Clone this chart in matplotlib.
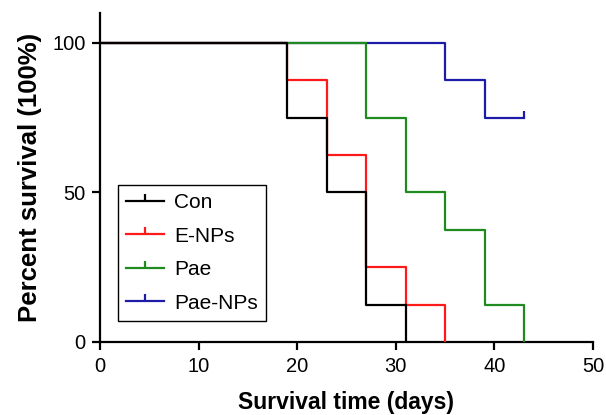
import matplotlib
matplotlib.use("Agg")
import matplotlib.pyplot as plt
from matplotlib.lines import Line2D

plt.rcParams["font.family"] = ["Liberation Sans", "DejaVu Sans"]

# survival curves (days, percent survival)
con_t = [0, 19, 23, 27, 31]
con_s = [100, 75, 50, 12.5, 0]

enps_t = [0, 19, 23, 27, 31, 35]
enps_s = [100, 87.5, 62.5, 25, 12.5, 0]

pae_t = [0, 27, 31, 35, 39, 43]
pae_s = [100, 75, 50, 37.5, 12.5, 0]

paenps_t = [0, 35, 39, 43]
paenps_s = [100, 87.5, 75, 75]
paenps_censor_t = [43]
paenps_censor_s = [75]

labels = ["Con", "E-NPs", "Pae", "Pae-NPs"]
colors = ["#000000", "#ff1a1a", "#1f8a1f", "#1c1ca8"]

fig = plt.figure(figsize=(6.06, 4.15), dpi=100)
ax = fig.add_axes([0.165, 0.176, 0.8135, 0.793])

lw = 1.6
ax.step(paenps_t, paenps_s, where="post", color=colors[3], lw=lw, zorder=2)
ax.plot(paenps_censor_t, paenps_censor_s, ls="none", marker=2, ms=5, mew=lw,
        color=colors[3], zorder=2)
ax.step(pae_t, pae_s, where="post", color=colors[2], lw=lw, zorder=3)
ax.step(enps_t, enps_s, where="post", color=colors[1], lw=lw, zorder=4)
ax.step(con_t, con_s, where="post", color=colors[0], lw=lw, zorder=5)

ax.set_xlim(0, 50)
ax.set_ylim(0, 110)
ax.set_xticks([0, 10, 20, 30, 40, 50])
ax.set_yticks([0, 50, 100])
ax.spines["top"].set_visible(False)
ax.spines["right"].set_visible(False)
for s in ["left", "bottom"]:
    ax.spines[s].set_linewidth(1.6)
ax.tick_params(direction="out", length=6, width=1.6, labelsize=14.5, pad=4.5)
for lab in ax.get_xticklabels() + ax.get_yticklabels():
    lab.set_clip_on(False)

ax.set_xlabel("Survival time (days)", fontsize=16.5, fontweight="bold", labelpad=11)
ax.set_ylabel("Percent survival (100%)", fontsize=18.5, fontweight="bold", labelpad=7)

handles = [Line2D([0], [0], color=c, lw=lw, marker=2, ms=5, mew=lw) for c in colors]
leg = ax.legend(handles, labels, loc="lower left", bbox_to_anchor=(0.0365, 0.0635),
                borderaxespad=0, fontsize=15, frameon=True, fancybox=False,
                edgecolor="black", framealpha=1, handlelength=1.8,
                handletextpad=0.5, labelspacing=0.7, borderpad=0.4, numpoints=1)
leg.get_frame().set_linewidth(1.0)

fig.savefig("out.png", dpi=100)
